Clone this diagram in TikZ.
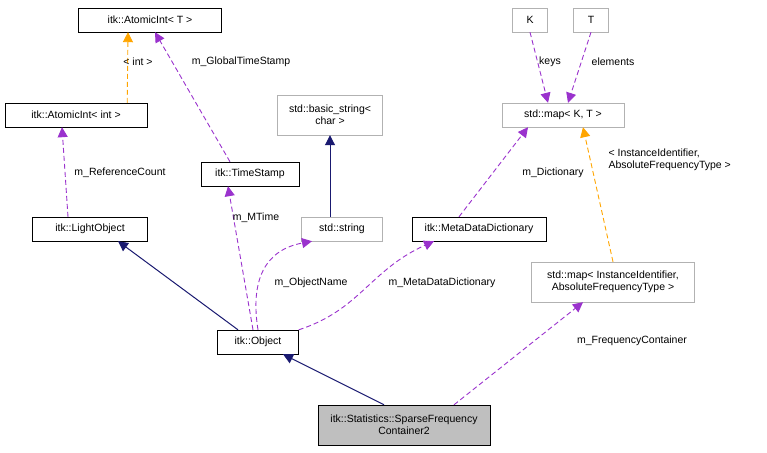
\documentclass[tikz,border=0pt]{standalone}
\usepackage{fontspec}
\setmainfont{Liberation Sans}
\usetikzlibrary{arrows.meta}
\definecolor{navy}{HTML}{191970}
\definecolor{purp}{HTML}{9A32CD}
\definecolor{orng}{HTML}{FFA500}
\begin{document}
\begin{tikzpicture}[x=1pt,y=-1pt,font=\fontsize{10.5}{12}\selectfont,
  cls/.style={draw=black,rectangle,inner sep=0pt,minimum height=24pt,align=center,fill=white},
  ext/.style={cls,draw=gray!60},
  inh/.style={draw=navy,line width=1pt,-{Triangle[length=10pt,width=10pt]}},
  use/.style={draw=purp,line width=0.9pt,dash pattern=on 5pt off 3pt,-{Triangle[length=10pt,width=10pt]}},
  tmpl/.style={draw=orng,line width=0.9pt,dash pattern=on 5pt off 3pt,-{Triangle[length=10pt,width=10pt]}},
  lbl/.style={align=left}]
\useasboundingbox (0,0) rectangle (767,452);
\node[cls,minimum width=143pt] (at) at (150,20) {itk::AtomicInt< T >};
\node[cls,minimum width=142pt] (ai) at (76,115) {itk::AtomicInt< int >};
\node[cls,minimum width=98pt] (ts) at (250,174) {itk::TimeStamp};
\node[cls,minimum width=115pt] (lo) at (90,229) {itk::LightObject};
\node[ext,minimum width=105pt,minimum height=40pt] (bs) at (330,115) {std::basic\_string<\\char >};
\node[ext,minimum width=81pt] (ss) at (342,229) {std::string};
\node[cls,minimum width=134pt] (md) at (479,229) {itk::MetaDataDictionary};
\node[ext,minimum width=35pt] (k) at (530,20) {K};
\node[ext,minimum width=35pt] (t) at (591,20) {T};
\node[ext,minimum width=122pt] (mkt) at (563,115) {std::map< K, T >};
\node[ext,minimum width=163pt,minimum height=40pt] (mii) at (613,282) {std::map< InstanceIdentifier,\\AbsoluteFrequencyType >};
\node[cls,minimum width=81pt] (ob) at (258,342) {itk::Object};
\node[cls,fill=gray!50,minimum width=172pt,minimum height=40pt] (sf) at (404,425) {itk::Statistics::SparseFrequency\\Container2};

\draw[tmpl] (ai.north east)++(-20,0) -- ([xshift=-22pt]at.south);
\node[lbl] at (138,62) {< int >};
\draw[use] ([xshift=-20pt]ts.north) -- ([xshift=5pt]at.south);
\node[lbl] at (241,62) {m\_GlobalTimeStamp};
\draw[use] ([xshift=-22pt]lo.north) -- ([xshift=-14pt]ai.south);
\node[lbl] at (120,173) {m\_ReferenceCount};
\draw[inh] (ss.north) ++(-12,0) -- ([xshift=0pt]bs.south);
\draw[inh] ([xshift=-20pt]ob.north) -- ([xshift=28pt]lo.south);
\draw[use] ([xshift=-5pt]ob.north) -- ([xshift=-22pt]ts.south);
\node[lbl] at (256,218) {m\_MTime};
\draw[use] (ob.north) .. controls (250,280) and (265,250) .. ([xshift=-30pt]ss.south);
\node[lbl] at (311,283) {m\_ObjectName};
\draw[use] (ob.north east) .. controls (360,310) and (370,270) .. ([xshift=-45pt]md.south);
\node[lbl] at (442,283) {m\_MetaDataDictionary};
\draw[use] ([xshift=-20pt]md.north) -- ([xshift=-35pt]mkt.south);
\node[lbl] at (553,173) {m\_Dictionary};
\draw[use] (k.south) -- ([xshift=-15pt]mkt.north);
\node[lbl] at (550,62) {keys};
\draw[use] (t.south) -- ([xshift=5pt]mkt.north);
\node[lbl] at (613,62) {elements};
\draw[tmpl] (mii.north) -- ([xshift=20pt]mkt.south);
\node[lbl,anchor=west] at (605,160) {< InstanceIdentifier,\\AbsoluteFrequencyType >};
\draw[inh] ([xshift=-20pt]sf.north) -- ([xshift=25pt]ob.south);
\draw[use] ([xshift=50pt]sf.north) -- ([xshift=-30pt]mii.south);
\node[lbl] at (632,341) {m\_FrequencyContainer};
\end{tikzpicture}
\end{document}
